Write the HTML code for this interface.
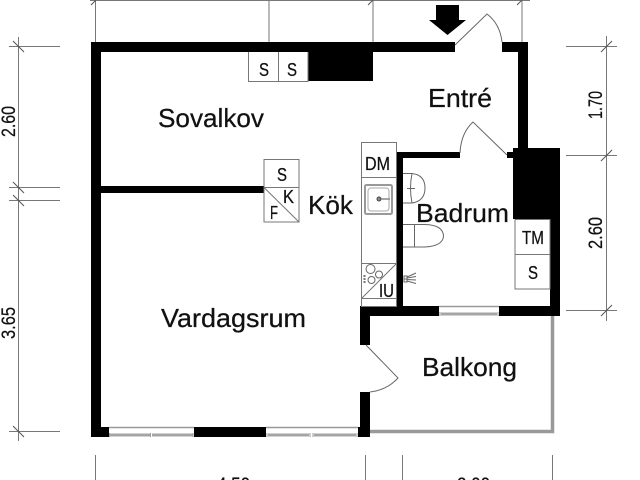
<!DOCTYPE html>
<html><head><meta charset="utf-8"><style>
html,body{margin:0;padding:0;background:#fff;width:640px;height:480px;overflow:hidden}
svg{display:block}
text{font-family:"Liberation Sans",sans-serif;fill:#111;stroke:#111;stroke-width:.25}
.d{stroke:#777;stroke-width:1;fill:none}
.t{stroke:#555;stroke-width:1;fill:none}
.b{stroke:#777;stroke-width:1;fill:#fff}
.g{stroke:#666;stroke-width:1;fill:none}
</style></head><body>
<svg width="640" height="480" viewBox="0 0 640 480" xmlns="http://www.w3.org/2000/svg">
<!-- dimension lines -->
<path class="d" d="M95.500 0V42M269 0V42M373 0V42M522 0V42M90 0.500H530"/>
<path class="t" d="M91 5L100 -4M368 5L377 -4M517 5L526 -4"/>
<path class="d" d="M18.500 37V441M9 46.500H60M9 187.500H60M9 200.500H60M9 431.500H60"/>
<path class="t" d="M13 41L24 52M13 182L24 193M13 195L24 206M13 426L24 437"/>
<path class="d" d="M606.500 36V321M566 46.500H617M566 155.500H617M566 310.500H617"/>
<path class="t" d="M601 52L612 41M601 161L612 150M601 316L612 305"/>
<path class="d" d="M95.500 455V480M365.500 455V480M402.500 455V480M552.500 455V480"/>
<!-- balcony -->
<path d="M552.500 316V431.500H370" fill="none" stroke="#999" stroke-width="3.500"/>
<!-- walls -->
<g fill="#000">
<rect x="91" y="42" width="364" height="10"/>
<rect x="502" y="42" width="26" height="10"/>
<rect x="518" y="42" width="10" height="110"/>
<rect x="91" y="42" width="10" height="395"/>
<rect x="101" y="186" width="163" height="7"/>
<rect x="308" y="52" width="65" height="29"/>
<rect x="91" y="427" width="18" height="10"/>
<rect x="194" y="427" width="72" height="10"/>
<rect x="358" y="427" width="12" height="10"/>
<rect x="360" y="392" width="10" height="45"/>
<rect x="360" y="306" width="10" height="39"/>
<rect x="360" y="306" width="79" height="10"/>
<rect x="499" y="306" width="61" height="10"/>
<rect x="550" y="148" width="10" height="168"/>
<rect x="513" y="148" width="47" height="71"/>
<rect x="396" y="152" width="64" height="6"/>
<rect x="507" y="152" width="10" height="6"/>
<rect x="396" y="152" width="7" height="155"/>
</g>
<!-- arrow -->
<path d="M436 5H459V20H466L447.500 35L429 20H436Z" fill="#000"/>
<!-- doors -->
<path class="g" d="M455 45L487 14Q500 24 502 42"/>
<path class="g" d="M460 153Q461 133 473 122L507 155"/>
<path class="g" d="M366 345L398 378Q387 390 370 392"/>
<!-- windows -->
<path d="M109 427.500H194M266 427.500H358M439 306.500H499" fill="none" stroke="#999" stroke-width="1.500"/>
<g fill="#a5a5a5">
<rect x="110" y="433.500" width="40" height="3"/>
<rect x="152" y="433.500" width="41" height="3"/>
<rect x="268" y="433.500" width="41" height="3"/>
<rect x="314" y="433.500" width="42" height="3"/>
<rect x="441" y="312.500" width="56" height="3"/>
</g>
<path d="M109.500 433V437M150.500 433V437M193 433V437M267 433V437M310 433V437M313 433V437M357 433V437M440 312V316M498 312V316" stroke="#999" stroke-width="1" fill="none"/>
<!-- wardrobes -->
<path class="b" d="M248.500 52V81.500H308V52"/>
<path class="d" d="M278.500 52V81"/>
<rect class="b" x="264" y="159.500" width="35" height="62.500"/>
<path class="d" d="M264 187.500H299M264 187.500L299 222"/>
<!-- kitchen -->
<rect class="b" x="361.500" y="142.500" width="35" height="164"/>
<path class="d" d="M361.500 177.500H396M361.500 263.500H396M361.500 298.500H396M362 298L396 264"/>
<rect x="365" y="185" width="27" height="29" rx="1.500" fill="#fff" stroke="#999" stroke-width="2"/>
<rect x="368" y="188" width="21" height="23" rx="3" fill="none" stroke="#aaa" stroke-width="1"/>
<circle cx="379" cy="199" r="2" fill="#888" stroke="#444"/>
<path d="M381 199H390" stroke="#888" stroke-width="1.500"/>
<g class="g">
<circle cx="370.500" cy="269" r="4.500"/>
<circle cx="379" cy="274.500" r="3.500"/>
<circle cx="371.500" cy="280" r="3.500"/>
</g>
<path d="M364.500 275V283" stroke="#777" stroke-width="2" stroke-dasharray="2 1"/>
<!-- bathroom fixtures -->
<path class="g" d="M403 173.500H412Q425 175 425 188Q425 201 412 203H403"/>
<path class="g" d="M412 173.500Q409 188 412 203M407 188.500H415"/>
<path class="g" d="M403 224.500H425Q443 225 443.500 236Q443 246 425 247H403M414.500 224.500V247"/>
<path class="g" d="M404 275.500V282.500M407 275.500V282.500M404 276H407M404 279H407M404 282H407M407 277L416 273M407 278L416 276.500M407 279.500L416 280M407 281L416 283.500"/>
<!-- tall units -->
<rect class="b" x="515" y="219.500" width="35" height="69.500"/>
<path class="d" d="M515 254.500H550"/>
<!-- room labels -->
<text x="158" y="127" font-size="26" textLength="106" lengthAdjust="spacingAndGlyphs">Sovalkov</text>
<text x="428" y="107" font-size="26" textLength="64" lengthAdjust="spacingAndGlyphs">Entré</text>
<text x="308" y="214" font-size="26" textLength="45" lengthAdjust="spacingAndGlyphs">Kök</text>
<text x="416" y="222" font-size="26" textLength="93" lengthAdjust="spacingAndGlyphs">Badrum</text>
<text x="161" y="327" font-size="26" textLength="145" lengthAdjust="spacingAndGlyphs">Vardagsrum</text>
<text x="422" y="376" font-size="26" textLength="95" lengthAdjust="spacingAndGlyphs">Balkong</text>
<!-- unit labels -->
<g font-size="18">
<text x="259" y="76" textLength="10" lengthAdjust="spacingAndGlyphs">S</text>
<text x="287" y="76" textLength="10" lengthAdjust="spacingAndGlyphs">S</text>
<text x="277" y="181" textLength="10" lengthAdjust="spacingAndGlyphs">S</text>
<text x="283" y="203" textLength="11" lengthAdjust="spacingAndGlyphs">K</text>
<text x="270" y="219" textLength="8" lengthAdjust="spacingAndGlyphs">F</text>
<text x="365" y="170" textLength="25" lengthAdjust="spacingAndGlyphs">DM</text>
<text x="522" y="244" textLength="22" lengthAdjust="spacingAndGlyphs">TM</text>
<text x="528" y="279" textLength="10" lengthAdjust="spacingAndGlyphs">S</text>
<text x="379" y="297" textLength="15" lengthAdjust="spacingAndGlyphs">IU</text>
</g>
<!-- dimension labels -->
<g font-size="19.500">
<text transform="translate(15,137) rotate(-90)" textLength="31" lengthAdjust="spacingAndGlyphs">2.60</text>
<text transform="translate(15,339) rotate(-90)" textLength="32" lengthAdjust="spacingAndGlyphs">3.65</text>
<text transform="translate(602,119) rotate(-90)" textLength="28" lengthAdjust="spacingAndGlyphs">1.70</text>
<text transform="translate(602,249) rotate(-90)" textLength="32" lengthAdjust="spacingAndGlyphs">2.60</text>
<text x="217" y="491" textLength="33" lengthAdjust="spacingAndGlyphs">4.50</text>
<text x="457" y="491" textLength="33" lengthAdjust="spacingAndGlyphs">2.00</text>
</g>
</svg>
</body></html>
